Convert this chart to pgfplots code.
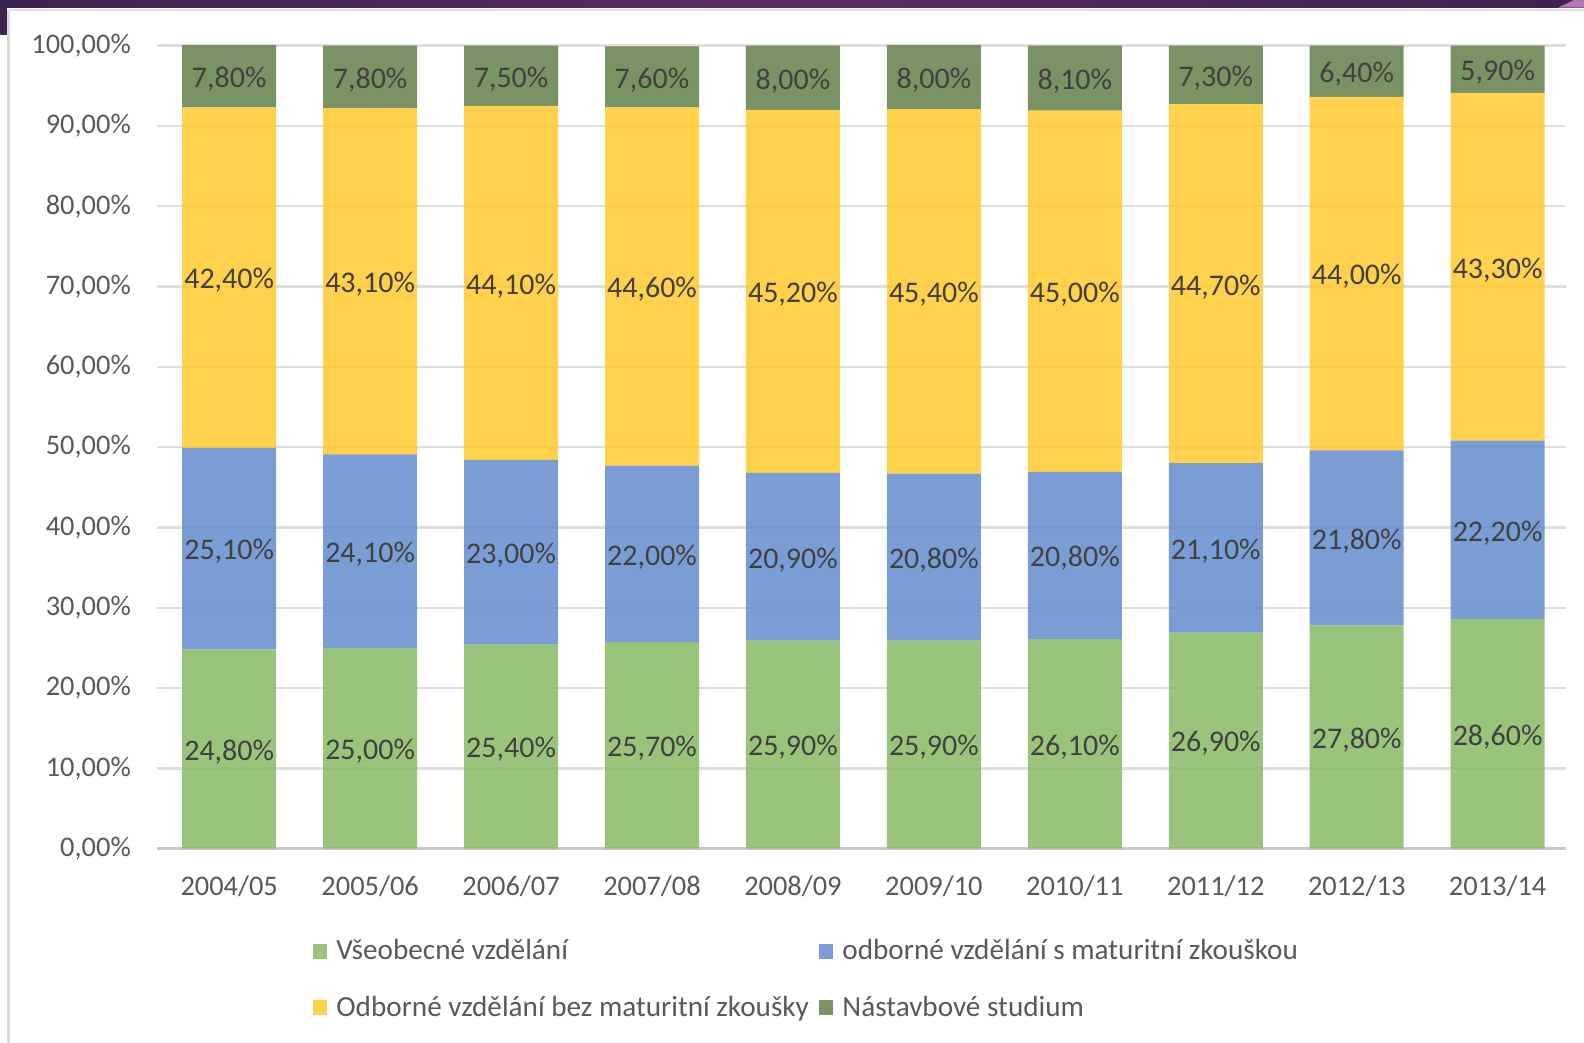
\documentclass[border=0pt]{standalone}
\usepackage{pgfplots}
\pgfplotsset{compat=1.18}
\usepackage{fontspec}
\setmainfont{Carlito}

\definecolor{cgreen}{RGB}{137,186,102}
\definecolor{cblue}{RGB}{99,140,207}
\definecolor{cyellow}{RGB}{255,202,46}
\definecolor{cdark}{RGB}{99,129,74}
\definecolor{tickgray}{RGB}{89,89,89}
\definecolor{labelgray}{RGB}{64,64,64}
\definecolor{gridgray}{RGB}{222,222,222}
\definecolor{axisgray}{RGB}{200,200,200}
\definecolor{purpA}{RGB}{60,35,80}
\definecolor{purpB}{RGB}{92,44,100}

\newcommand{\tickfont}{\fontsize{14.2pt}{17pt}\selectfont}
\newcommand{\legfont}{\fontsize{14.6pt}{17pt}\selectfont}
\newcommand{\labfont}{\fontsize{15pt}{18pt}\selectfont}

\begin{document}
\begin{tikzpicture}
\useasboundingbox (0,0) rectangle (792pt,-521.5pt);
\fill[white] (0,0) rectangle (792pt,-521.5pt);
% frame of the screenshot
\shade[left color=purpA, right color=purpA, middle color=purpB] (0,0) rectangle (792pt,-3.8pt);
\fill[purpA] (0,0) rectangle (3.5pt,-17.5pt);
\fill[violet!55] (779pt,-3.8pt) -- (792pt,-3.8pt) -- (792pt,0) -- (787pt,0) -- cycle;
\draw[black!15, line width=1.2pt] (4.3pt,-5pt) -- (4.3pt,-521.5pt);
\draw[black!12, line width=1pt] (4.3pt,-5pt) -- (792pt,-5pt);

\begin{axis}[
    at={(78.3pt,-424.3pt)}, anchor=south west,
    scale only axis, width=704.7pt, height=401.5pt,
    ybar stacked, bar width=47pt,
    xmin=-0.515, xmax=9.485, ymin=0, ymax=100,
    xtick={0,...,9},
    xticklabels={2004/05,2005/06,2006/07,2007/08,2008/09,2009/10,2010/11,2011/12,2012/13,2013/14},
    ytick={0,10,...,100},
    /pgf/number format/assume math mode=true,
    yticklabel={\pgfmathprintnumber[fixed,fixed zerofill,precision=2,use comma]{\tick}\%},
    yticklabel style={font=\tickfont, text=tickgray, anchor=east, inner sep=0pt, xshift=-12.7pt},
    xticklabel style={font=\tickfont, text=tickgray, anchor=base, inner sep=0pt, yshift=-23.2pt},
    axis line style={draw=none},
    major tick style={draw=none},
    ymajorgrids,
    grid style={line width=1.2pt, gridgray},
    extra y ticks={0},
    extra y tick labels={},
    extra y tick style={grid style={line width=1.3pt, axisgray}},
    legend cell align=left,
    legend style={at={(0.4618,-0.103)}, anchor=north, draw=none, fill=none,
        font=\legfont, text=tickgray, legend columns=2, row sep=12.5pt,
        /tikz/every odd column/.append style={column sep=2.5pt},
        /tikz/every even column/.append style={column sep=3pt}},
    legend image code/.code={\fill[#1, draw=none] (0pt,-3.6pt) rectangle (7.2pt,3.6pt);},
]
\addplot[fill=cgreen, draw=none, fill opacity=0.85] coordinates
    {(0,24.8) (1,25.0) (2,25.4) (3,25.7) (4,25.9) (5,25.9) (6,26.1) (7,26.9) (8,27.8) (9,28.6)};
\addplot[fill=cblue, draw=none, fill opacity=0.85] coordinates
    {(0,25.1) (1,24.1) (2,23.0) (3,22.0) (4,20.9) (5,20.8) (6,20.8) (7,21.1) (8,21.8) (9,22.2)};
\addplot[fill=cyellow, draw=none, fill opacity=0.85] coordinates
    {(0,42.4) (1,43.1) (2,44.1) (3,44.6) (4,45.2) (5,45.4) (6,45.0) (7,44.7) (8,44.0) (9,43.3)};
\addplot[fill=cdark, draw=none, fill opacity=0.85] coordinates
    {(0,7.8) (1,7.8) (2,7.5) (3,7.6) (4,8.0) (5,8.0) (6,8.1) (7,7.3) (8,6.4) (9,5.9)};
\legend{Všeobecné vzdělání, odborné vzdělání s maturitní zkouškou, Odborné vzdělání bez maturitní zkoušky, Nástavbové studium}
\end{axis}

% data labels, centred in each segment
\begin{axis}[
    at={(78.3pt,-424.3pt)}, anchor=south west,
    scale only axis, width=704.7pt, height=401.5pt,
    xmin=-0.515, xmax=9.485, ymin=0, ymax=100,
    hide axis,
    /pgf/number format/assume math mode=true,
]
\addplot[draw=none, mark=none, point meta=explicit,
    nodes near coords={\pgfmathprintnumber[fixed,fixed zerofill,precision=2,use comma]{\pgfplotspointmeta}\%},
    every node near coord/.append style={anchor=center, font=\labfont, text=labelgray, inner sep=0pt, yshift=-1.5pt}]
coordinates {
    (0,12.4)[24.8] (1,12.5)[25.0] (2,12.7)[25.4] (3,12.85)[25.7] (4,12.95)[25.9]
    (5,12.95)[25.9] (6,13.05)[26.1] (7,13.45)[26.9] (8,13.9)[27.8] (9,14.3)[28.6]
    (0,37.35)[25.1] (1,37.05)[24.1] (2,36.9)[23.0] (3,36.7)[22.0] (4,36.35)[20.9]
    (5,36.3)[20.8] (6,36.5)[20.8] (7,37.45)[21.1] (8,38.7)[21.8] (9,39.7)[22.2]
    (0,71.1)[42.4] (1,70.65)[43.1] (2,70.45)[44.1] (3,70.0)[44.6] (4,69.4)[45.2]
    (5,69.4)[45.4] (6,69.4)[45.0] (7,70.35)[44.7] (8,71.6)[44.0] (9,72.45)[43.3]
    (0,96.2)[7.8] (1,96.1)[7.8] (2,96.25)[7.5] (3,96.1)[7.6] (4,96.0)[8.0]
    (5,96.1)[8.0] (6,95.95)[8.1] (7,96.35)[7.3] (8,96.8)[6.4] (9,97.05)[5.9]
};
\end{axis}
\end{tikzpicture}
\end{document}
